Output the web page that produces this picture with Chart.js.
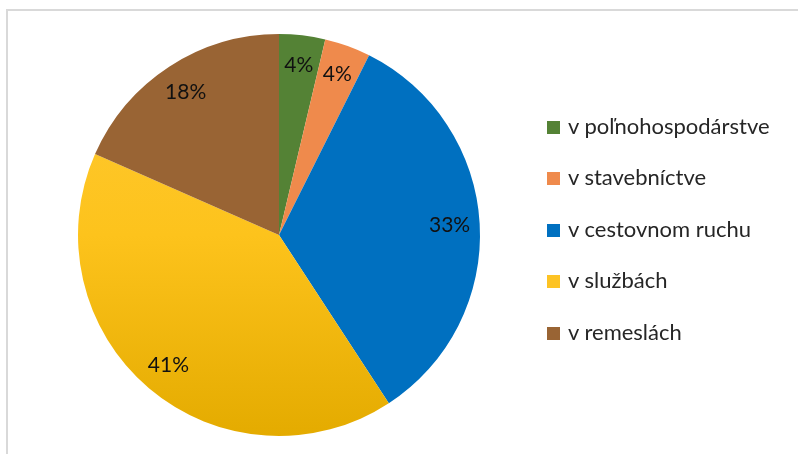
<!DOCTYPE html>
<html>
<head>
<meta charset="utf-8">
<script src="https://cdn.jsdelivr.net/npm/chart.js@4"></script>
<style>
    html, body { margin: 0; padding: 0; background: #fff; }
    #wrap { position: relative; width: 798px; height: 454px; overflow: hidden; }
    #frame { position: absolute; left: 6px; top: 9px; width: 800px; height: 460px;
             border-top: 2px solid #d9d9d9; border-left: 2px solid #d9d9d9; }
    #chart { position: absolute; left: 0; top: 0; }
    #legend { position: absolute; left: 547px; top: 112px; font-family: Lato, sans-serif;
              font-size: 22px; color: #262626; }
    .item { height: 51.4px; display: flex; align-items: flex-start; white-space: nowrap; }
    .box { width: 13px; height: 13px; margin: 9px 8px 0 0; }
</style>
</head>
<body>
<div id="wrap">
    <div id="frame"></div>
    <canvas id="chart" width="798" height="454"></canvas>
    <div id="legend"></div>
</div>
<script>
const categories = ['v poľnohospodárstve', 'v stavebníctve', 'v cestovnom ruchu', 'v službách', 'v remeslách'];
const shares = [3.7, 3.7, 33.4, 40.8, 18.4];
const colors = ['#548235', '#ef8a4c', '#0070c0', '#fdc324', '#996434'];

// percentage labels drawn inside each slice
const sliceLabels = {
    id: 'sliceLabels',
    afterDatasetsDraw(chart) {
        const ctx = chart.ctx;
        const total = shares.reduce((a, b) => a + b, 0);
        ctx.save();
        ctx.font = '21px Lato, sans-serif';
        ctx.fillStyle = '#111';
        ctx.textAlign = 'center';
        ctx.textBaseline = 'middle';
        chart.getDatasetMeta(0).data.forEach((arc, i) => {
            const p = arc.getProps(['x', 'y', 'startAngle', 'endAngle', 'outerRadius'], true);
            const mid = (p.startAngle + p.endAngle) / 2;
            const r = p.outerRadius * 0.85;
            const txt = Math.round(shares[i] / total * 100) + '%';
            ctx.fillText(txt, p.x + Math.cos(mid) * r, p.y + Math.sin(mid) * r);
        });
        ctx.restore();
    }
};

function sliceColor(context) {
    const i = context.dataIndex;
    if (i !== 3) return colors[i];
    const area = context.chart.chartArea;
    if (!area) return colors[i];
    const g = context.chart.ctx.createLinearGradient(0, area.top, 0, area.bottom);
    g.addColorStop(0, '#ffca36');
    g.addColorStop(0.5, '#fdc31c');
    g.addColorStop(1, '#e4ab00');
    return g;
}

new Chart(document.getElementById('chart'), {
    type: 'pie',
    data: {
        labels: categories,
        datasets: [{
            data: shares,
            backgroundColor: sliceColor,
            borderWidth: 0
        }]
    },
    options: {
        responsive: false,
        animation: false,
        layout: { padding: { left: 78, right: 318, top: 34, bottom: 18 } },
        plugins: {
            legend: { display: false },
            tooltip: { enabled: false }
        }
    },
    plugins: [sliceLabels]
});

// legend built from the same arrays
const legend = document.getElementById('legend');
categories.forEach((name, i) => {
    const row = document.createElement('div');
    row.className = 'item';
    const box = document.createElement('div');
    box.className = 'box';
    box.style.background = colors[i];
    const label = document.createElement('span');
    label.textContent = name;
    row.appendChild(box);
    row.appendChild(label);
    legend.appendChild(row);
});
</script>
</body>
</html>
